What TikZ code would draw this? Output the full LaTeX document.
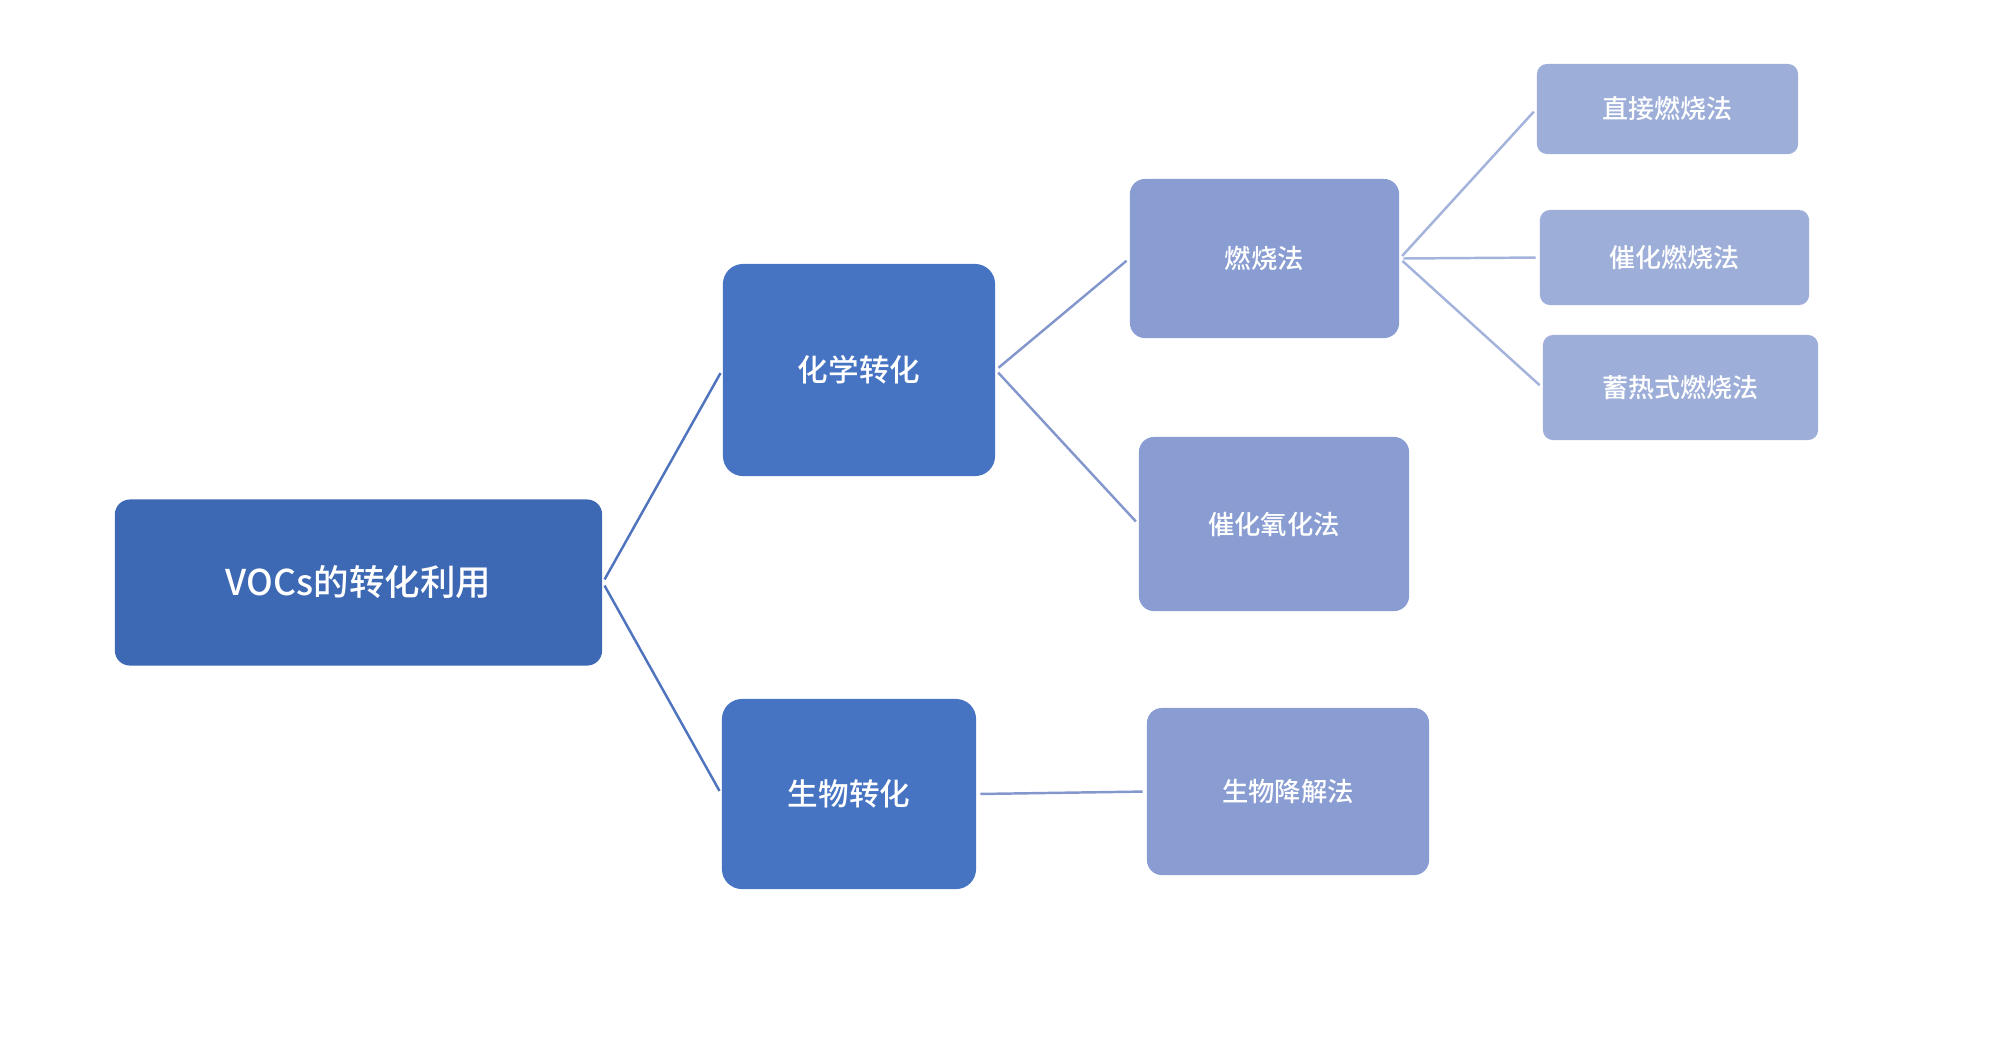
\documentclass[tikz,border=0pt]{standalone}
\usepackage{fontspec}
\setmainfont{Noto Sans CJK SC}[BoldFont={Noto Sans CJK SC Medium}]
\definecolor{rootc}{HTML}{3D68B4}
\definecolor{lvlone}{HTML}{4674C3}
\definecolor{lvltwo}{HTML}{899DD2}
\definecolor{lvlthree}{HTML}{9DAED9}
\definecolor{lineone}{HTML}{4F74BD}
\definecolor{linetwo}{HTML}{8397CD}
\definecolor{linethree}{HTML}{A3B3DC}
\begin{document}
\begin{tikzpicture}[x=0.01cm,y=-0.01cm,
  box/.style={rectangle, inner sep=0pt, text=white, align=center, font=\bfseries},
  rootbox/.style={box, fill=rootc, rounded corners=0.15cm, font=\bfseries\fontsize{10.1pt}{12pt}\selectfont},
  onebox/.style={box, fill=lvlone, rounded corners=0.2cm, font=\bfseries\fontsize{8.7pt}{10pt}\selectfont},
  twobox/.style={box, fill=lvltwo, rounded corners=0.15cm, font=\bfseries\fontsize{7.5pt}{9pt}\selectfont},
  threebox/.style={box, fill=lvlthree, rounded corners=0.1cm, font=\bfseries\fontsize{7.4pt}{9pt}\selectfont},
  conn/.style={line width=0.7pt, shorten <=1pt, shorten >=1pt}
]
\useasboundingbox (0,0) rectangle (2000,1062);
\node[rootbox, minimum width=4.87cm, minimum height=1.66cm] (root) at (358.5,582.5) {VOCs的转化利用};
\node[onebox, minimum width=2.72cm, minimum height=2.12cm] (chem) at (859,370) {化学转化};
\node[onebox, minimum width=2.54cm, minimum height=1.90cm] (bio) at (849,794) {生物转化};
\node[twobox, minimum width=2.69cm, minimum height=1.59cm] (comb) at (1264.5,258.5) {燃烧法};
\node[twobox, minimum width=2.70cm, minimum height=1.74cm] (catox) at (1274,524) {催化氧化法};
\node[twobox, minimum width=2.82cm, minimum height=1.67cm] (biodeg) at (1288,791.5) {生物降解法};
\node[threebox, minimum width=2.61cm, minimum height=0.90cm] (direct) at (1667.5,109) {直接燃烧法};
\node[threebox, minimum width=2.69cm, minimum height=0.95cm] (catcomb) at (1674.5,257.5) {催化燃烧法};
\node[threebox, minimum width=2.75cm, minimum height=1.05cm] (regen) at (1680.5,387.5) {蓄热式燃烧法};
\draw[conn, lineone] (root.east) -- (chem.west);
\draw[conn, lineone] (root.east) -- (bio.west);
\draw[conn, linetwo] (chem.east) -- (comb.west);
\draw[conn, linetwo] (chem.east) -- (catox.west);
\draw[conn, linetwo] (bio.east) -- (biodeg.west);
\draw[conn, linethree] (comb.east) -- (direct.west);
\draw[conn, linethree] (comb.east) -- (catcomb.west);
\draw[conn, linethree] (comb.east) -- (regen.west);
\end{tikzpicture}
\end{document}
